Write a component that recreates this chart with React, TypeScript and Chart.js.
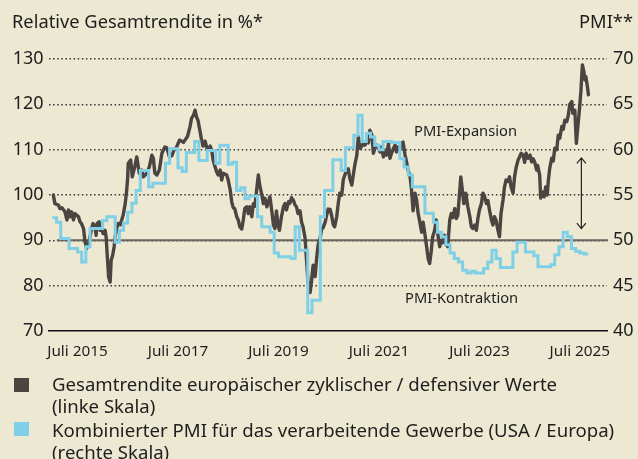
import React, { useEffect, useRef } from "react";
import { Chart, registerables } from "chart.js";

Chart.register(...registerables);

// ---------- data ----------
const leftTicks = [70, 80, 90, 100, 110, 120, 130];
const rightTicks = [40, 45, 50, 55, 60, 65, 70];
const xTickValues = [2015.5, 2017.5, 2019.5, 2021.5, 2023.5, 2025.5];
const xTickLabels = ["Juli 2015", "Juli 2017", "Juli 2019", "Juli 2021", "Juli 2023", "Juli 2025"];

// relative total return (decimal year)
const returnDates = [
  2015.02, 2015.05, 2015.12, 2015.15, 2015.19, 2015.25, 2015.29, 2015.32, 2015.35, 2015.38, 2015.42, 2015.45,
  2015.52, 2015.55, 2015.58, 2015.62, 2015.65, 2015.68, 2015.72, 2015.75, 2015.78, 2015.81, 2015.85, 2015.87,
  2015.89, 2015.93, 2015.95, 2015.98, 2016.01, 2016.05, 2016.07, 2016.09, 2016.12, 2016.15, 2016.17, 2016.2,
  2016.23, 2016.25, 2016.28, 2016.31, 2016.35, 2016.38, 2016.41, 2016.45, 2016.48, 2016.5, 2016.51, 2016.56,
  2016.59, 2016.64, 2016.68, 2016.73, 2016.78, 2016.81, 2016.88, 2016.93, 2016.98, 2017.01, 2017.04, 2017.08,
  2017.13, 2017.18, 2017.24, 2017.28, 2017.33, 2017.38, 2017.42, 2017.47, 2017.53, 2017.57, 2017.61, 2017.64,
  2017.69, 2017.74, 2017.77, 2017.81, 2017.84, 2017.87, 2017.9, 2017.94, 2017.97, 2018.0, 2018.04, 2018.07,
  2018.1, 2018.14, 2018.17, 2018.2, 2018.24, 2018.27, 2018.3, 2018.34, 2018.37, 2018.4, 2018.47, 2018.5,
  2018.54, 2018.57, 2018.6, 2018.63, 2018.67, 2018.7, 2018.73, 2018.77, 2018.8, 2018.83, 2018.87, 2018.9,
  2018.93, 2018.97, 2019.0, 2019.03, 2019.07, 2019.1, 2019.13, 2019.17, 2019.2, 2019.23, 2019.27, 2019.3,
  2019.33, 2019.37, 2019.4, 2019.43, 2019.46, 2019.49, 2019.52, 2019.56, 2019.6, 2019.63, 2019.66, 2019.7,
  2019.73, 2019.76, 2019.8, 2019.83, 2019.86, 2019.89, 2019.93, 2019.96, 2019.99, 2020.03, 2020.06, 2020.09,
  2020.13, 2020.16, 2020.19, 2020.23, 2020.26, 2020.29, 2020.33, 2020.36, 2020.39, 2020.43, 2020.46, 2020.49,
  2020.53, 2020.56, 2020.59, 2020.62, 2020.66, 2020.69, 2020.72, 2020.76, 2020.79, 2020.82, 2020.86, 2020.89,
  2020.92, 2020.96, 2020.99, 2021.02, 2021.06, 2021.09, 2021.12, 2021.16, 2021.19, 2021.22, 2021.26, 2021.29,
  2021.32, 2021.36, 2021.39, 2021.42, 2021.45, 2021.49, 2021.52, 2021.55, 2021.59, 2021.62, 2021.65, 2021.69,
  2021.72, 2021.75, 2021.79, 2021.82, 2021.85, 2021.88, 2021.92, 2021.95, 2021.98, 2022.02, 2022.05, 2022.08,
  2022.12, 2022.15, 2022.18, 2022.22, 2022.25, 2022.28, 2022.32, 2022.35, 2022.38, 2022.42, 2022.45, 2022.48,
  2022.51, 2022.54, 2022.57, 2022.61, 2022.64, 2022.67, 2022.71, 2022.74, 2022.77, 2022.81, 2022.84, 2022.87,
  2022.91, 2022.94, 2022.97, 2023.01, 2023.04, 2023.07, 2023.11, 2023.13, 2023.16, 2023.19, 2023.23, 2023.27,
  2023.31, 2023.34, 2023.37, 2023.41, 2023.44, 2023.47, 2023.5, 2023.54, 2023.57, 2023.6, 2023.64, 2023.67,
  2023.7, 2023.74, 2023.77, 2023.8, 2023.83, 2023.87, 2023.9, 2023.93, 2023.97, 2024.0, 2024.03, 2024.07,
  2024.1, 2024.13, 2024.17, 2024.2, 2024.23, 2024.27, 2024.3, 2024.33, 2024.37, 2024.4, 2024.43, 2024.47,
  2024.51, 2024.54, 2024.57, 2024.6, 2024.64, 2024.66, 2024.7, 2024.72, 2024.75, 2024.79, 2024.82, 2024.85,
  2024.87, 2024.9, 2024.94, 2024.97, 2025.0, 2025.04, 2025.07, 2025.1, 2025.14, 2025.17, 2025.2, 2025.24,
  2025.27, 2025.3, 2025.34, 2025.36, 2025.4, 2025.43, 2025.46, 2025.49, 2025.52, 2025.55, 2025.58, 2025.6,
  2025.62, 2025.65, 2025.67,
];
const returnValues = [
  100.0, 98.1, 97.8, 97.0, 97.2, 96.3, 94.5, 96.7, 95.2, 96.3, 94.5, 95.9,
  95.2, 94.1, 93.7, 92.6, 89.7, 88.2, 89.3, 90.8, 92.6, 93.7, 93.0, 91.1,
  93.7, 94.1, 92.2, 92.6, 91.5, 92.2, 90.7, 87.1, 81.9, 80.8, 85.6, 86.7,
  88.6, 90.8, 92.6, 93.7, 93.4, 94.5, 95.6, 98.1, 101.1, 104.0, 107.0, 107.7,
  104.0, 106.2, 108.4, 104.8, 105.5, 104.0, 104.8, 106.2, 108.8, 108.1, 104.8, 104.4,
  105.5, 109.2, 110.6, 110.4, 108.4, 108.7, 109.9, 110.5, 112.1, 111.9, 111.6, 112.1,
  112.9, 115.1, 116.9, 117.6, 118.7, 117.2, 116.4, 114.0, 112.1, 110.8, 111.9, 110.6,
  110.0, 110.8, 109.9, 107.7, 106.2, 105.1, 104.4, 105.5, 103.3, 104.8, 104.4, 103.3,
  101.1, 98.5, 97.2, 97.0, 95.2, 94.5, 93.0, 92.5, 94.5, 97.0, 97.4, 95.9,
  97.4, 95.2, 98.1, 97.5, 101.5, 104.4, 102.0, 100.0, 98.1, 99.3, 97.4, 98.5,
  99.6, 96.3, 93.4, 92.6, 96.5, 93.4, 92.2, 95.2, 97.4, 98.1, 96.7, 98.5,
  98.2, 99.4, 98.8, 97.8, 97.4, 95.9, 96.5, 94.0, 93.0, 90.5, 85.5, 80.5,
  78.5, 81.2, 84.5, 82.0, 86.0, 89.0, 90.5, 92.5, 92.8, 94.0, 95.5, 96.9,
  96.8, 95.4, 93.5, 93.0, 95.2, 98.1, 100.4, 100.0, 103.3, 104.4, 105.5, 105.8,
  103.7, 102.2, 104.4, 106.6, 108.8, 112.9, 110.3, 110.8, 111.4, 111.0, 111.7, 111.5,
  114.3, 113.2, 109.2, 110.3, 111.0, 110.3, 109.5, 110.6, 108.4, 109.9, 108.8, 111.4,
  108.1, 109.2, 110.3, 111.0, 109.5, 110.6, 110.0, 111.4, 111.7, 108.8, 107.3, 105.5,
  104.0, 101.1, 96.5, 100.4, 98.9, 96.0, 93.7, 91.8, 94.0, 91.0, 88.6, 86.0,
  84.9, 87.5, 90.8, 92.2, 94.5, 91.5, 88.6, 90.0, 89.5, 91.1, 89.0, 88.6,
  94.5, 95.9, 95.0, 97.0, 94.8, 95.5, 101.1, 104.0, 101.1, 98.1, 100.4, 97.4,
  95.2, 93.0, 92.6, 93.4, 92.2, 94.8, 96.7, 98.1, 100.4, 99.8, 98.1, 98.8,
  96.7, 94.5, 93.4, 95.2, 94.5, 92.2, 90.8, 95.9, 98.9, 101.8, 103.3, 103.0,
  104.0, 101.8, 100.4, 104.0, 106.0, 107.7, 108.4, 109.2, 108.8, 107.2, 109.2, 108.1,
  108.8, 107.3, 108.0, 107.3, 105.5, 106.5, 104.4, 99.3, 100.7, 99.6, 101.8, 100.0,
  102.9, 105.9, 108.1, 107.5, 110.3, 110.0, 113.2, 112.5, 115.1, 114.5, 116.5, 116.2,
  117.6, 120.0, 120.6, 118.0, 118.7, 111.4, 115.1, 118.7, 122.8, 128.7, 127.2, 125.4,
  126.1, 123.9, 122.1,
];

// combined manufacturing PMI, monthly from January 2015
const pmiStartYear = 2015;
const pmiValues = [
  52.5, 52.5, 52.0, 50.2, 50.2, 49.1, 49.1, 48.7, 47.6, 49.3, 51.3, 51.3,
  51.3, 52.2, 52.6, 52.6, 49.8, 51.1, 51.9, 53.1, 54.1, 55.5, 57.7, 57.7,
  55.9, 56.3, 56.3, 56.3, 58.5, 60.1, 60.1, 58.0, 57.6, 59.7, 59.7, 60.9,
  58.8, 58.8, 59.9, 59.9, 58.5, 60.5, 60.5, 58.4, 58.6, 55.5, 55.8, 54.6,
  54.9, 54.9, 52.6, 51.5, 51.5, 50.9, 48.6, 48.2, 48.2, 48.2, 48.0, 51.5,
  48.9, 48.9, 42.0, 43.4, 43.4, 52.6, 55.5, 55.5, 58.9, 58.9, 57.7, 60.2,
  60.2, 61.6, 63.8, 60.9, 61.8, 61.4, 60.5, 60.0, 60.9, 60.9, 60.8, 60.8,
  59.0, 58.1, 57.2, 55.9, 55.9, 55.9, 53.0, 53.0, 52.0, 50.9, 50.4, 49.5,
  48.6, 48.0, 47.6, 46.7, 46.4, 46.6, 46.4, 46.4, 46.9, 47.6, 48.9, 48.0,
  47.0, 47.0, 47.0, 48.7, 49.8, 49.8, 48.7, 48.7, 48.3, 47.1, 47.1, 47.1,
  47.3, 48.4, 49.3, 50.9, 50.4, 49.1, 48.8, 48.6, 48.5,
];

// annotation (data units)
const pmiThreshold = 50;
const thresholdStartYear = 2015.09;
const arrowYear = 2025.53;
const arrowTopPmi = 59.1;
const arrowBottomPmi = 51.3;

// ---------- styles ----------
const BG = "#ECE8D2";
const DARK = "#4B4441";
const BLUE = "#7FCFE6";
const TEXT = "#1E1E1E";
const FONT = "'Noto Sans', Roboto, sans-serif";

const thresholdPlugin = {
  id: "threshold",
  beforeDatasetsDraw(chart: any) {
    const { ctx, chartArea, scales } = chart;
    const y = scales.y1.getPixelForValue(pmiThreshold);
    const x0 = scales.x.getPixelForValue(thresholdStartYear);
    ctx.save();
    ctx.strokeStyle = "#6B6560";
    ctx.lineWidth = 2;
    ctx.beginPath();
    ctx.moveTo(x0, y);
    ctx.lineTo(chartArea.right + 1, y);
    ctx.stroke();
    ctx.restore();
  },
};

const arrowPlugin = {
  id: "arrow",
  afterDatasetsDraw(chart: any) {
    const { ctx, scales } = chart;
    const x = scales.x.getPixelForValue(arrowYear);
    const yt = scales.y1.getPixelForValue(arrowTopPmi);
    const yb = scales.y1.getPixelForValue(arrowBottomPmi);
    ctx.save();
    ctx.strokeStyle = "#222";
    ctx.lineWidth = 1.2;
    ctx.beginPath();
    ctx.moveTo(x, yt);
    ctx.lineTo(x, yb);
    ctx.moveTo(x - 4.5, yt + 5.5);
    ctx.lineTo(x, yt);
    ctx.lineTo(x + 4.5, yt + 5.5);
    ctx.moveTo(x - 4.5, yb - 5.5);
    ctx.lineTo(x, yb);
    ctx.lineTo(x + 4.5, yb - 5.5);
    ctx.stroke();
    ctx.restore();
  },
};

export default function App() {
  const ref = useRef<HTMLCanvasElement | null>(null);

  useEffect(() => {
    document.body.style.margin = "0";
    const canvas = ref.current!;
    const chart = new Chart(canvas, {
      type: "line",
      data: {
        datasets: [
          {
            label: "Gesamtrendite europäischer zyklischer / defensiver Werte",
            data: returnDates.map((d, i) => ({ x: d, y: returnValues[i] })),
            yAxisID: "y",
            borderColor: DARK,
            borderWidth: 3.4,
            pointRadius: 0,
            tension: 0,
            borderJoinStyle: "round",
            borderCapStyle: "round",
            order: 1,
          },
          {
            label: "Kombinierter PMI",
            data: pmiValues.map((v, i) => ({ x: pmiStartYear + i / 12, y: v })),
            yAxisID: "y1",
            borderColor: BLUE,
            borderWidth: 3,
            pointRadius: 0,
            stepped: "after",
            order: 0,
          },
        ],
      },
      options: {
        animation: false,
        responsive: false,
        maintainAspectRatio: false,
        layout: { padding: { top: 59, bottom: 94, left: 0, right: 0 } },
        plugins: { legend: { display: false }, tooltip: { enabled: false } },
        scales: {
          x: {
            type: "linear",
            min: 2014.925,
            max: 2026.04,
            afterBuildTicks: (s: any) => {
              s.ticks = xTickValues.map((v) => ({ value: v }));
            },
            afterFit: (s: any) => {
              s.height = 34;
            },
            ticks: {
              autoSkip: false,
              maxRotation: 0,
              padding: 11,
              color: TEXT,
              font: { family: FONT, size: 15.3 },
              callback: (v: any) => {
                const i = xTickValues.indexOf(Number(v));
                return i >= 0 ? xTickLabels[i] : "";
              },
            },
            grid: { display: false, drawTicks: false },
            border: { display: true, color: "#111", width: 1.5 },
          },
          y: {
            position: "left",
            min: 70,
            max: 130,
            afterBuildTicks: (s: any) => {
              s.ticks = leftTicks.map((v) => ({ value: v }));
            },
            afterFit: (s: any) => {
              s.width = 48.6;
            },
            ticks: { padding: 5, color: TEXT, font: { family: FONT, size: 18 } },
            grid: {
              drawTicks: false,
              lineWidth: 1.5,
              color: (c: any) => (c.tick && c.tick.value === 70 ? "rgba(0,0,0,0)" : "#3A3A3A"),
            },
            border: { display: false, dash: [1.5, 2.6] },
          },
          y1: {
            position: "right",
            min: 40,
            max: 70,
            afterBuildTicks: (s: any) => {
              s.ticks = rightTicks.map((v) => ({ value: v }));
            },
            afterFit: (s: any) => {
              s.width = 31;
            },
            ticks: { padding: 6, color: TEXT, font: { family: FONT, size: 18 } },
            grid: { display: false, drawTicks: false },
            border: { display: false },
          },
        },
      },
      plugins: [thresholdPlugin, arrowPlugin],
    } as any);
    return () => chart.destroy();
  }, []);

  const txt: React.CSSProperties = {
    position: "absolute",
    fontFamily: FONT,
    color: TEXT,
    whiteSpace: "nowrap",
  };

  return (
    <div style={{ position: "relative", width: 638, height: 459, background: BG, overflow: "hidden" }}>
      <canvas ref={ref} width={638} height={459} style={{ position: "absolute", left: 0, top: 0 }} />
      <div style={{ ...txt, left: 12, top: 10, fontSize: 18.3, lineHeight: "22px" }}>Relative Gesamtrendite in %*</div>
      <div style={{ ...txt, right: 5, top: 10, fontSize: 18.3, lineHeight: "22px" }}>PMI**</div>
      <div style={{ ...txt, left: 414, top: 121, fontSize: 14.7, lineHeight: "18px" }}>PMI-Expansion</div>
      <div style={{ ...txt, left: 405, top: 288, fontSize: 14.7, lineHeight: "18px" }}>PMI-Kontraktion</div>
      <div style={{ position: "absolute", left: 14, top: 378, width: 15, height: 14, background: DARK }} />
      <div style={{ ...txt, left: 52, top: 373, fontSize: 18.6, lineHeight: "22px" }}>
        Gesamtrendite europäischer zyklischer / defensiver Werte
        <br />
        (linke Skala)
      </div>
      <div style={{ position: "absolute", left: 14, top: 422, width: 15, height: 14, background: BLUE }} />
      <div style={{ ...txt, left: 52, top: 419, fontSize: 18.6, lineHeight: "22px" }}>
        Kombinierter PMI für das verarbeitende Gewerbe (USA / Europa)
        <br />
        (rechte Skala)
      </div>
    </div>
  );
}
